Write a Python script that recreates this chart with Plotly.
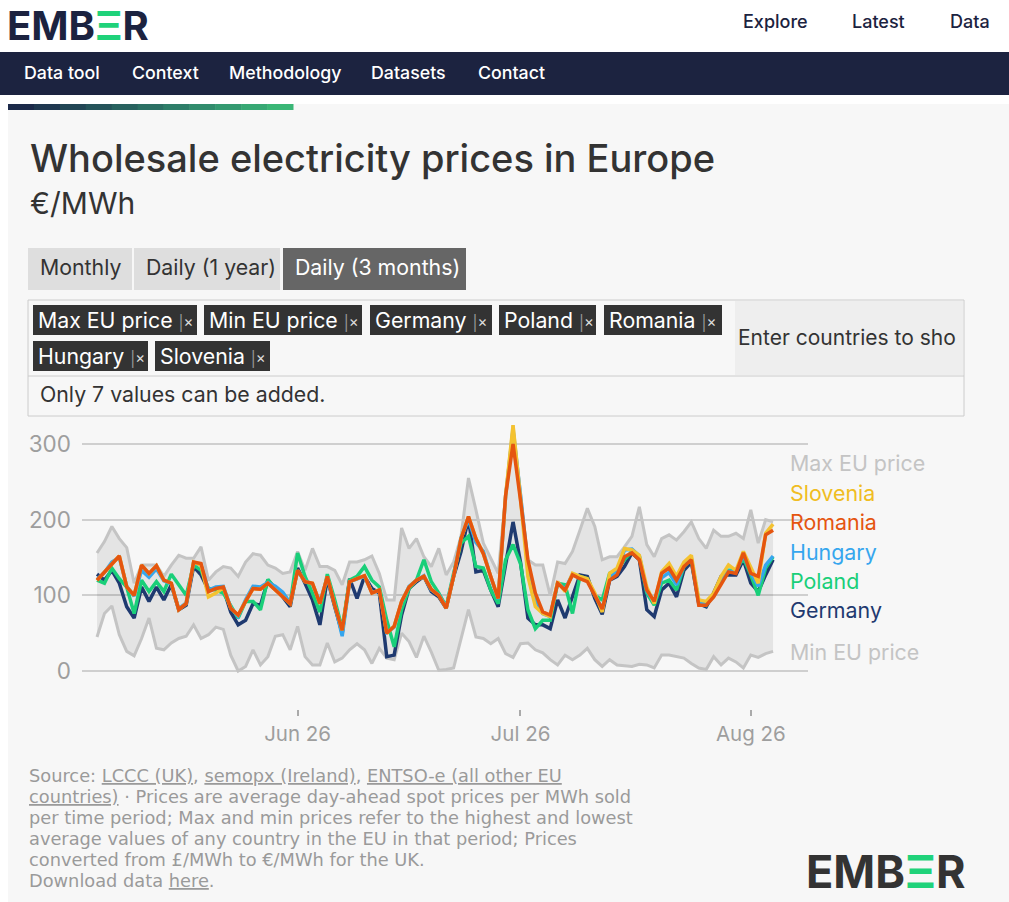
import pandas as pd
import plotly.graph_objects as go

# daily series, 92 days starting 5 May 2026 (ticks land on month starts)
dates = pd.date_range("2026-05-05", periods=92, freq="D")

max_eu = [156, 171, 191, 175, 163, 116, 140, 140, 140, 125, 140, 153, 149, 149, 164, 120, 131, 138, 136, 125,
          144, 155, 153, 140, 136, 129, 131, 158, 133, 162, 138, 138, 133, 114, 144, 144, 147, 152, 129, 94,
          94, 189, 162, 175, 151, 138, 162, 127, 144, 178, 255, 213, 169, 149, 129, 233, 325, 235, 147, 140,
          140, 100, 144, 142, 158, 186, 215, 191, 147, 151, 151, 164, 178, 217, 167, 151, 175, 180, 173, 184,
          197, 175, 162, 186, 178, 178, 182, 175, 213, 169, 200, 197]
min_eu = [45, 76, 86, 48, 26, 20, 43, 70, 30, 28, 37, 43, 46, 61, 43, 48, 58, 55, 21, 0,
          6, 28, 8, 19, 46, 48, 28, 59, 19, 8, 8, 37, 12, 17, 28, 36, 28, 10, 30, 17,
          15, 50, 39, 18, 46, 25, 1, 2, 4, 41, 81, 45, 43, 36, 43, 23, 18, 36, 37, 28,
          24, 15, 8, 21, 15, 21, 30, 15, 6, 15, 8, 7, 6, 9, 8, 4, 21, 21, 19, 17,
          10, 4, 2, 19, 8, 17, 12, 4, 21, 18, 23, 26]
germany = [128, 120, 133, 116, 85, 70, 111, 92, 111, 94, 114, 81, 87, 138, 127, 107, 109, 109, 78, 61,
           67, 89, 87, 120, 109, 98, 85, 136, 116, 94, 61, 122, 85, 50, 122, 96, 125, 109, 103, 19,
           21, 74, 109, 118, 125, 105, 98, 83, 125, 158, 202, 131, 133, 107, 85, 142, 197, 144, 70, 61,
           61, 56, 94, 70, 98, 127, 125, 96, 75, 120, 125, 138, 156, 147, 81, 72, 107, 116, 98, 133,
           144, 89, 85, 103, 125, 127, 127, 147, 116, 105, 127, 147]
poland = [120, 116, 136, 122, 111, 76, 120, 105, 118, 105, 128, 114, 100, 140, 133, 109, 107, 103, 87, 70,
          92, 92, 81, 121, 109, 103, 89, 156, 125, 103, 78, 128, 94, 56, 120, 125, 138, 120, 111, 67,
          32, 81, 109, 120, 147, 118, 103, 85, 129, 169, 178, 138, 136, 107, 89, 147, 167, 142, 81, 56,
          67, 67, 116, 114, 76, 125, 122, 100, 94, 129, 133, 147, 158, 151, 103, 87, 116, 120, 107, 138,
          147, 92, 87, 100, 120, 133, 133, 149, 127, 100, 136, 151]
hungary = [121, 130, 144, 150, 112, 99, 133, 124, 135, 119, 115, 82, 90, 143, 140, 107, 111, 112, 84, 72,
           94, 112, 111, 117, 112, 104, 90, 132, 119, 115, 91, 124, 88, 46, 118, 121, 125, 104, 106, 51,
           58, 91, 112, 120, 126, 107, 101, 84, 126, 176, 200, 170, 158, 124, 95, 231, 318, 233, 140, 95,
           76, 72, 117, 108, 128, 124, 120, 101, 82, 124, 131, 160, 161, 152, 106, 90, 123, 130, 114, 139,
           149, 90, 88, 99, 118, 132, 131, 153, 130, 112, 140, 152]
romania = [120, 131, 142, 152, 111, 100, 140, 129, 139, 120, 116, 81, 89, 144, 142, 105, 109, 111, 83, 74,
           92, 109, 108, 116, 107, 98, 89, 133, 118, 116, 89, 125, 87, 54, 118, 122, 126, 103, 107, 50,
           59, 92, 111, 120, 125, 108, 100, 83, 125, 175, 204, 175, 155, 125, 96, 232, 300, 226, 147, 103,
           78, 74, 116, 107, 127, 122, 118, 100, 82, 120, 127, 151, 156, 147, 107, 92, 129, 136, 120, 138,
           147, 87, 87, 98, 114, 131, 129, 156, 129, 125, 180, 186]
slovenia = [120, 131, 142, 152, 111, 100, 140, 129, 139, 120, 116, 81, 89, 144, 140, 98, 103, 110, 83, 74,
            92, 109, 108, 116, 107, 98, 89, 133, 118, 116, 89, 125, 87, 54, 118, 122, 126, 103, 107, 50,
            59, 92, 111, 120, 125, 108, 100, 83, 125, 175, 204, 175, 155, 125, 96, 232, 325, 228, 125, 85,
            76, 72, 118, 105, 129, 125, 122, 103, 78, 129, 136, 162, 160, 153, 111, 89, 131, 142, 125, 144,
            153, 94, 92, 103, 125, 140, 133, 158, 136, 116, 182, 194]

countries = [("Germany", germany, "#1f3a70"), ("Poland", poland, "#19cf79"),
             ("Hungary", hungary, "#35a6ee"), ("Slovenia", slovenia, "#f4c230"),
             ("Romania", romania, "#e5550f")]

# end-of-line labels (name, colour, pixel row)
end_labels = [("Max EU price", "#c4c4c4", 463), ("Slovenia", "#f0bd22", 493),
              ("Romania", "#e5550f", 522), ("Hungary", "#35a6ee", 552),
              ("Poland", "#19cf79", 581), ("Germany", "#1f3a70", 610),
              ("Min EU price", "#c4c4c4", 652)]

tags_row1 = ["Max EU price", "Min EU price", "Germany", "Poland", "Romania"]
tags_row2 = ["Hungary", "Slovenia"]

footer_lines = [
    "Source: <span style='text-decoration:underline'>LCCC (UK)</span>, "
    "<span style='text-decoration:underline'>semopx (Ireland)</span>, "
    "<span style='text-decoration:underline'>ENTSO-e (all other EU</span>",
    "<span style='text-decoration:underline'>countries)</span> · Prices are average day-ahead spot prices per MWh sold",
    "per time period; Max and min prices refer to the highest and lowest",
    "average values of any country in the EU in that period; Prices",
    "converted from £/MWh to €/MWh for the UK.",
    "Download data <span style='text-decoration:underline'>here</span>.",
]

W, H = 1009, 902
L, R, T, B = 82, 201, 420, 193
PW, PH = W - L - R, H - T - B
FONT = "Inter"


def px(x):
    return (x - L) / PW


def py(y):
    return 1 - (y - T) / PH


def rect(x0, y0, x1, y1, fill, line=None, layer="below"):
    return dict(type="rect", xref="paper", yref="paper", x0=px(x0), x1=px(x1), y0=py(y1), y1=py(y0),
                fillcolor=fill, line=dict(width=1 if line else 0, color=line or fill), layer=layer)


def text(x, y, s, size, color, anchor="left", weight=None, family=FONT, pad=1):
    f = dict(family=family, size=size, color=color)
    if weight:
        f["weight"] = weight
    return dict(xref="paper", yref="paper", x=px(x), y=py(y), text=s, showarrow=False,
                xanchor=anchor, yanchor="middle", font=f, borderpad=pad)


fig = go.Figure()

fig.add_trace(go.Scatter(x=dates, y=min_eu, mode="lines", line=dict(color="#c4c4c4", width=3),
                         hoverinfo="skip"))
fig.add_trace(go.Scatter(x=dates, y=max_eu, mode="lines", line=dict(color="#c4c4c4", width=3),
                         fill="tonexty", fillcolor="rgba(0,0,0,0.075)", hoverinfo="skip"))
for name, vals, col in countries:
    fig.add_trace(go.Scatter(x=dates, y=vals, mode="lines", name=name,
                             line=dict(color=col, width=3.5)))

shapes = []
annotations = []

# page chrome
shapes.append(rect(8, 104, 1009, 902, "#f7f7f7"))
shapes.append(rect(0, 52, 1009, 95, "#1c2340"))
grad = ["#1c2a4a", "#1f3850", "#224655", "#25545a", "#28625f", "#2b7064", "#2e7e69", "#318c6d",
        "#349a71", "#37a874", "#3ab676"]
seg = (293 - 8) / len(grad)
for k, c in enumerate(grad):
    shapes.append(rect(8 + k * seg, 104, 8 + (k + 1) * seg + 0.5, 110, c))

annotations.append(text(6, 25.5, "<b>EMB<span style='color:#1fd27a'>Ξ</span>R</b>", 40, "#1c2340", pad=0))
for label, x in [("Explore", 741), ("Latest", 850), ("Data", 948)]:
    annotations.append(text(x, 22, label, 18, "#1c2340", weight=500))
for label, x in [("Data tool", 22), ("Context", 130), ("Methodology", 227), ("Datasets", 369),
                 ("Contact", 476)]:
    annotations.append(text(x, 72, label, 17.8, "#ffffff", weight=500))

annotations.append(text(28, 158, "Wholesale electricity prices in Europe", 38, "#333333", weight=500))
annotations.append(text(28, 203, "€/MWh", 30, "#333333"))

# view buttons
for label, x0, x1, bg, fg in [("Monthly", 28, 132, "#dedede", "#333333"),
                              ("Daily (1 year)", 134, 280, "#dedede", "#333333"),
                              ("Daily (3 months)", 283, 466, "#666666", "#ffffff")]:
    shapes.append(rect(x0, 248, x1, 290, bg))
    annotations.append(text(x0 + 10, 267, label, 21.3, fg))

# country picker
shapes.append(rect(28, 300, 964, 416, "#f7f7f7", line="#cccccc"))
shapes.append(rect(735, 301, 963, 375, "#eeeeee"))
shapes.append(dict(type="line", xref="paper", yref="paper", x0=px(28), x1=px(964), y0=py(376), y1=py(376),
                   line=dict(color="#cccccc", width=1), layer="below"))
annotations.append(text(736, 337, "Enter countries to sho", 21, "#333333"))
annotations.append(text(38, 394, "Only 7 values can be added.", 21.3, "#333333"))

close_mark = " <span style='font-size:15px;color:#999999'>|</span><span style='font-size:15px;color:#dddddd'>×</span>"
tag_spans = [(33, 197), (204, 362), (370, 492), (499, 596), (604, 722)]
for (x0, x1), name in zip(tag_spans, tags_row1):
    shapes.append(rect(x0, 305, x1, 335, "#333333"))
    annotations.append(text(x0 + 4, 320, name + close_mark, 21.3, "#ffffff", pad=0))
tag_spans2 = [(33, 148), (155, 270)]
for (x0, x1), name in zip(tag_spans2, tags_row2):
    shapes.append(rect(x0, 341, x1, 371, "#333333"))
    annotations.append(text(x0 + 4, 356, name + close_mark, 21.3, "#ffffff", pad=0))

for name, col, y in end_labels:
    annotations.append(text(789, y, name, 21.4, col, pad=0))

for k, line in enumerate(footer_lines):
    annotations.append(text(28, 775 + 21 * k, line, 17.8, "#9a9a9a", family="DejaVu Sans", pad=0))

annotations.append(text(805, 871, "<b>EMB<span style='color:#1fd27a'>Ξ</span>R</b>", 45, "#333333", pad=0))

x_start = dates[0] - pd.Timedelta(days=2.02)
x_end = dates[0] + pd.Timedelta(days=95.7)

fig.update_layout(
    width=W, height=H, autosize=False,
    margin=dict(l=L, r=R, t=T, b=B, pad=0),
    paper_bgcolor="#ffffff", plot_bgcolor="#f7f7f7",
    showlegend=False,
    shapes=shapes, annotations=annotations,
    font=dict(family=FONT),
    xaxis=dict(type="date", range=[x_start, x_end],
               tickvals=[pd.Timestamp("2026-06-01"), pd.Timestamp("2026-07-01"), pd.Timestamp("2026-08-01")],
               tickformat="%b %y", ticks="outside", ticklen=6, tickwidth=2, tickcolor="#aaaaaa",
               tickfont=dict(size=20.5, color="#9e9e9e"), showgrid=False, zeroline=False, showline=False),
    yaxis=dict(range=[-50.2, 331.7], tickvals=[0, 100, 200, 300], ticks="", ticklabelstandoff=10,
               tickfont=dict(size=22.5, color="#9e9e9e"), gridcolor="#cfcfcf", gridwidth=2,
               zeroline=False, showline=False),
)

fig.write_html("out.html", config={"displayModeBar": False},
               post_script="document.body.style.margin='0';")
